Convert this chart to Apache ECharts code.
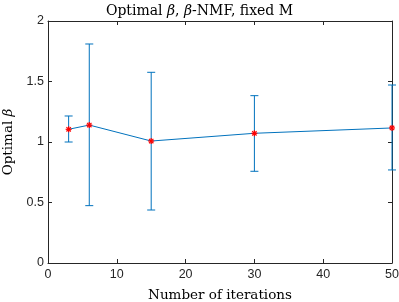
<!DOCTYPE html>
<html><head><meta charset="utf-8">
<script src="https://cdn.jsdelivr.net/npm/echarts@6/dist/echarts.min.js"></script>
<style>html,body{margin:0;padding:0;background:#fff}#c{width:399px;height:302px}</style>
</head><body><div id="c"></div>
<script>
var iterations = [3, 6, 15, 30, 50];
var betaMean = [1.105, 1.14, 1.008, 1.072, 1.116];
var betaLow = [1.0, 0.474, 0.438, 0.758, 0.769];
var betaHigh = [1.215, 1.81, 1.576, 1.383, 1.471];
var xTicks = [0, 10, 20, 30, 40, 50];
var yTicks = [0, 0.5, 1, 1.5, 2];

var blue = '#0072BD';
var axisCol = '#262626';
var serif = '"DejaVu Serif", "Liberation Serif", serif';
var sans = '"Liberation Sans", Arial, sans-serif';

var chart = echarts.init(document.getElementById('c'), null, {renderer: 'canvas'});
var errData = iterations.map(function (x, i) { return [x, betaLow[i], betaHigh[i]]; });
var ptData = iterations.map(function (x, i) { return [x, betaMean[i]]; });

function axisCommon(show, margin) {
  return {
    axisLine: {show: true, onZero: false, lineStyle: {color: axisCol, width: 1}},
    axisTick: {show: true, inside: true, length: 4, lineStyle: {color: axisCol, width: 1}},
    splitLine: {show: false},
    axisLabel: {show: show, margin: margin, color: axisCol, fontFamily: sans, fontSize: 12.5,
      formatter: function (v) { return String(v); }}
  };
}

var option = {
  animation: false,
  title: {
    text: 'Optimal {i|β}, {i|β}-NMF, fixed M',
    left: 'center', top: -1,
    textStyle: {fontFamily: serif, fontSize: 14, fontWeight: 'normal', color: '#000',
      rich: {i: {fontFamily: serif, fontStyle: 'italic', fontSize: 14}}}
  },
  grid: {left: 48, right: 7, top: 21, bottom: 39, containLabel: false, outerBoundsMode: 'none'},
  xAxis: [
    Object.assign({type: 'value', min: 0, max: 50, interval: 10, position: 'bottom',
      name: 'Number of iterations', nameLocation: 'middle', nameGap: 25,
      nameTextStyle: {fontFamily: serif, fontSize: 13.5, color: '#000'}}, axisCommon(true, 5)),
    Object.assign({type: 'value', min: 0, max: 50, interval: 10, position: 'top'}, axisCommon(false, 5))
  ],
  yAxis: [
    Object.assign({type: 'value', min: 0, max: 2, interval: 0.5, position: 'left',
      name: 'Optimal {i|β}', nameLocation: 'middle', nameGap: 31,
      nameTextStyle: {fontFamily: serif, fontSize: 13.5, color: '#000',
        rich: {i: {fontFamily: serif, fontStyle: 'italic', fontSize: 13.5}}}}, axisCommon(true, 4)),
    Object.assign({type: 'value', min: 0, max: 2, interval: 0.5, position: 'right'}, axisCommon(false, 4))
  ],
  series: [
    {
      type: 'custom', xAxisIndex: 0, yAxisIndex: 0, data: errData, z: 2,
      renderItem: function (params, api) {
        var x = api.value(0);
        var lo = api.coord([x, api.value(1)]);
        var hi = api.coord([x, api.value(2)]);
        var w = 4;
        var st = {stroke: blue, lineWidth: 1};
        return {type: 'group', children: [
          {type: 'line', shape: {x1: lo[0], y1: lo[1], x2: hi[0], y2: hi[1]}, style: st},
          {type: 'line', shape: {x1: lo[0] - w, y1: lo[1], x2: lo[0] + w, y2: lo[1]}, style: st},
          {type: 'line', shape: {x1: hi[0] - w, y1: hi[1], x2: hi[0] + w, y2: hi[1]}, style: st}
        ]};
      }
    },
    {
      type: 'line', xAxisIndex: 0, yAxisIndex: 0, data: ptData, z: 3,
      symbol: 'none', lineStyle: {color: blue, width: 1}
    },
    {
      type: 'custom', xAxisIndex: 0, yAxisIndex: 0, data: ptData, z: 4,
      renderItem: function (params, api) {
        var p = api.coord([api.value(0), api.value(1)]);
        var r = 3, d = 2.2;
        var st = {stroke: '#FF0000', lineWidth: 1.2};
        return {type: 'group', children: [
          {type: 'line', shape: {x1: p[0] - r, y1: p[1], x2: p[0] + r, y2: p[1]}, style: st},
          {type: 'line', shape: {x1: p[0], y1: p[1] - r, x2: p[0], y2: p[1] + r}, style: st},
          {type: 'line', shape: {x1: p[0] - d, y1: p[1] - d, x2: p[0] + d, y2: p[1] + d}, style: st},
          {type: 'line', shape: {x1: p[0] - d, y1: p[1] + d, x2: p[0] + d, y2: p[1] - d}, style: st}
        ]};
      }
    }
  ]
};
chart.setOption(option);
</script></body></html>
